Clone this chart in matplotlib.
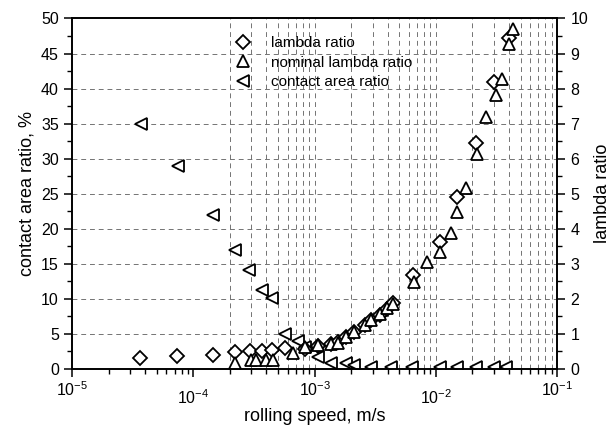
#!/usr/bin/env python3
# -*- coding: utf-8 -*-

"""Contact area ratio and lambda ratio vs rolling speed (log x, twin y axes)"""

import numpy as np
import matplotlib
matplotlib.use("Agg")
import matplotlib.pyplot as plt

plt.rcParams['font.family'] = ['Liberation Sans', 'DejaVu Sans']

# lambda ratio (diamonds, right axis)
lambda_speed = [3.63e-5, 7.31e-5, 1.45e-4, 2.2e-4, 2.92e-4, 3.66e-4, 4.43e-4,
                5.66e-4, 8.28e-4, 1.06e-3, 1.36e-3, 1.55e-3, 1.83e-3, 2.13e-3,
                2.58e-3, 2.94e-3, 3.43e-3, 3.92e-3, 4.39e-3, 6.41e-3, 1.07e-2,
                1.5e-2, 2.15e-2, 3.03e-2, 4.03e-2]
lambda_ratio = [0.32, 0.37, 0.40, 0.47, 0.50, 0.52, 0.54,
                0.59, 0.58, 0.66, 0.70, 0.78, 0.90, 1.04,
                1.24, 1.40, 1.54, 1.72, 1.88, 2.68, 3.63,
                4.92, 6.46, 8.20, 9.45]

# nominal lambda ratio (up triangles, right axis)
nominal_speed = [2.2e-4, 3.0e-4, 3.27e-4, 3.95e-4, 4.5e-4, 6.59e-4, 8.28e-4,
                 1.06e-3, 1.36e-3, 1.55e-3, 1.83e-3, 2.13e-3, 2.58e-3, 2.94e-3,
                 3.43e-3, 3.92e-3, 4.39e-3, 6.6e-3, 8.51e-3, 1.07e-2, 1.34e-2,
                 1.5e-2, 1.78e-2, 2.2e-2, 2.61e-2, 3.1e-2, 3.52e-2, 4.03e-2,
                 4.35e-2]
nominal_ratio = [0.18, 0.26, 0.26, 0.26, 0.26, 0.45, 0.62,
                 0.68, 0.72, 0.75, 0.90, 1.06, 1.26, 1.40,
                 1.56, 1.74, 1.86, 2.49, 3.06, 3.33, 3.87,
                 4.49, 5.16, 6.13, 7.18, 7.82, 8.27, 9.26,
                 9.69]

# contact area ratio (left triangles, left axis, %)
contact_speed = [3.7e-5, 7.4e-5, 1.46e-4, 2.2e-4, 2.9e-4, 3.66e-4, 4.43e-4,
                 5.66e-4, 7.24e-4, 8.3e-4, 1.06e-3, 1.36e-3, 1.83e-3, 2.13e-3,
                 2.94e-3, 4.3e-3, 6.4e-3, 1.07e-2, 1.5e-2, 2.15e-2, 3.03e-2,
                 3.8e-2]
contact_ratio = [35, 29, 22, 17, 14.1, 11.2, 10.1,
                 5.0, 4.0, 3.1, 1.7, 0.9, 0.8, 0.6,
                 0.3, 0.3, 0.3, 0.3, 0.3, 0.3, 0.3,
                 0.3]

fig = plt.figure(figsize=(6.11, 4.30), dpi=100)
ax = fig.add_axes([0.118, 0.142, 0.794, 0.815])
ax2 = ax.twinx()

mk = dict(linestyle='none', markerfacecolor='white', markeredgecolor='black',
          markeredgewidth=1.3)

# grid: horizontal every 5 %, vertical only from 2e-4 up
gl = dict(color='0.45', lw=0.7, ls=(0, (5, 4)), zorder=0)
for v in np.arange(5, 50, 5):
    ax.axhline(v, **gl)
for e in range(-4, -1):
    for m in range(1, 10):
        v = m * 10.0 ** e
        if v >= 2e-4:
            ax.axvline(v, **gl)

h1, = ax2.plot(lambda_speed, lambda_ratio, marker='D', markersize=7,
               label='lambda ratio', **mk)
h2, = ax2.plot(nominal_speed, nominal_ratio, marker='^', markersize=8,
               label='nominal lambda ratio', **mk)
h3, = ax.plot(contact_speed, contact_ratio, marker='<', markersize=8,
              label='contact area ratio', **mk)

ax.set_xscale('log')
ax.set_xlim(1e-5, 1e-1)
ax.set_ylim(0, 50)
ax2.set_ylim(0, 10)

ax.set_yticks(np.arange(0, 51, 5))
ax.set_yticks(np.arange(2.5, 50, 5), minor=True)
ax2.set_yticks(np.arange(0, 11, 1))
ax2.set_yticks(np.arange(0.5, 10, 1), minor=True)
ax.set_xticks([1e-5, 1e-4, 1e-3, 1e-2, 1e-1])

for a in (ax, ax2):
    a.tick_params(which='major', direction='out', length=6, width=1.1,
                  labelsize=11.5)
    a.tick_params(which='minor', direction='out', length=3.5, width=1.0)
    for s in a.spines.values():
        s.set_linewidth(1.2)

# staggered decade labels
for i, t in enumerate(ax.xaxis.get_major_ticks()):
    t.set_pad(2 if i % 2 == 0 else 8)

ax.set_xlabel('rolling speed, m/s', fontsize=13, labelpad=1)
ax.set_ylabel('contact area ratio, %', fontsize=13, labelpad=4)
ax2.set_ylabel('lambda ratio', fontsize=13, labelpad=4)

ax2.legend(handles=[h1, h2, h3], loc='upper left', bbox_to_anchor=(0.315, 0.975),
           frameon=False, fontsize=11, handlelength=1.2, handletextpad=1.2,
           labelspacing=0.35, borderaxespad=0.2)

fig.savefig('out.png', dpi=100)
